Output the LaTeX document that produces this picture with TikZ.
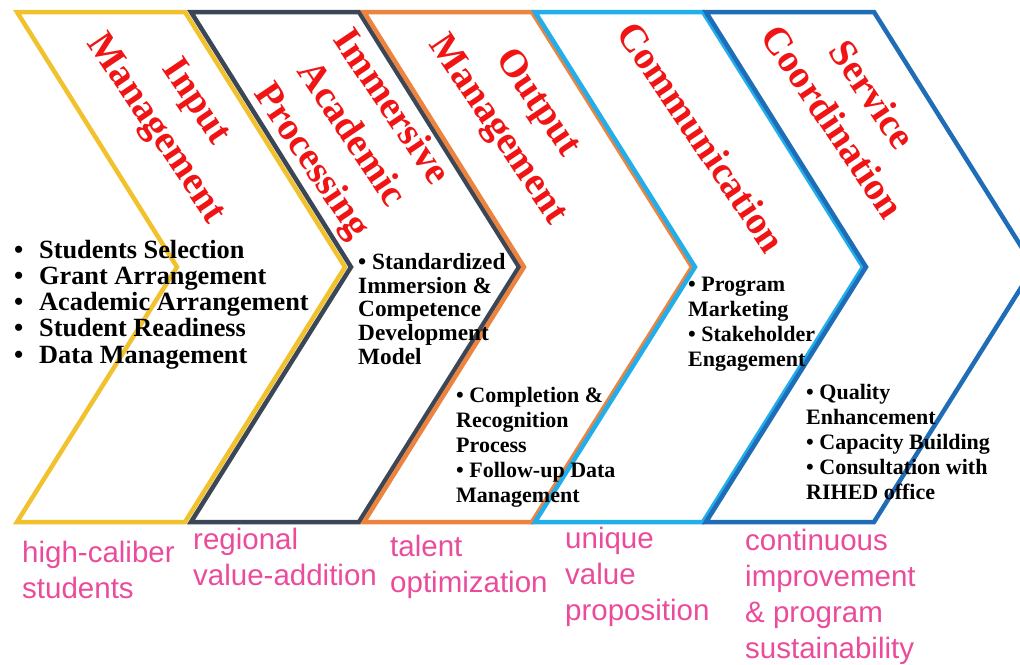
\documentclass[tikz,border=0pt]{standalone}
\usepackage{fontspec}
\setmainfont{Liberation Serif}
\setsansfont{Liberation Sans}
\usepackage{tikz}

\definecolor{chyellow}{HTML}{F2C12E}
\definecolor{chslate}{HTML}{3B4757}
\definecolor{chorange}{HTML}{EC8440}
\definecolor{chsky}{HTML}{22AEEA}
\definecolor{chblue}{HTML}{1F6DB7}
\definecolor{headred}{HTML}{F01414}
\definecolor{gainpink}{HTML}{EA4C9B}

\newcommand{\blt}{\makebox[25pt][l]{\textbullet}}

\begin{document}
\begin{tikzpicture}[x=1pt, y=-1pt,
	chev/.style={line width=4.5pt, line join=miter},
	head/.style={text=headred, font=\bfseries\fontsize{39}{48}\selectfont, align=center, rotate=-56, inner sep=0pt},
	item/.style={font=\bfseries\fontsize{22}{25}\selectfont, align=left, anchor=base west, inner sep=0pt},
	gain/.style={text=gainpink, font=\sffamily\fontsize{29.5}{36}\selectfont, align=left, anchor=base west, inner sep=0pt}]
			\useasboundingbox (0,0) rectangle (1020,664);
			\clip (0,0) rectangle (1020,664);
			
			% the five chevrons
			\draw[chev, chyellow] (17,12) -- (185,12) -- (345,267) -- (185,522) -- (17,522) -- (177,267) -- cycle;
			\draw[chev, chslate] (191,12) -- (359,12) -- (519,267) -- (359,522) -- (191,522) -- (351,267) -- cycle;
			\draw[chev, chorange] (364,12) -- (532,12) -- (692,267) -- (532,522) -- (364,522) -- (524,267) -- cycle;
			\draw[chev, chsky] (535,12) -- (703,12) -- (863,267) -- (703,522) -- (535,522) -- (695,267) -- cycle;
			\draw[chev, chblue] (706,12) -- (874,12) -- (1034,267) -- (874,522) -- (706,522) -- (866,267) -- cycle;
			
			% stage names
			\node[head] (inp) at (175,116) {Input\\Management};
			\node[head] (acad) at (350,135) {Immersive\\Academic\\Processing};
			\node[head] (outp) at (517,117) {Output\\Management};
			\node[head] (comm) at (702,137) {Communication};
			\node[head] (serv) at (853,108) {Service\\Coordination};
			
			% activities (placed by the baseline of the last line)
			\node[item, font=\bfseries\fontsize{26.3}{26.2}\selectfont] (inlist) at (14,363)
				{\blt Students Selection\\\blt Grant Arrangement\\\blt Academic Arrangement\\\blt Student Readiness\\\blt Data Management};
			\node[item, font=\bfseries\fontsize{23.3}{23.6}\selectfont] (acadlist) at (358,364)
				{\textbullet\ Standardized\\Immersion \&\\Competence\\Development\\Model};
			\node[item] (outlist) at (456,502)
				{\textbullet\ Completion \&\\Recognition\\Process\\\textbullet\ Follow-up Data\\Management};
			\node[item] (commlist) at (688,366)
				{\textbullet\ Program\\Marketing\\\textbullet\ Stakeholder\\Engagement};
			\node[item] (servlist) at (806,499)
				{\textbullet\ Quality\\Enhancement\\\textbullet\ Capacity Building\\\textbullet\ Consultation with\\RIHED office};
			
			% outcomes
			\node[gain] (ingain) at (22,598) {high-caliber\\students};
			\node[gain] (acadgain) at (193,585) {regional\\value-addition};
			\node[gain] (outgain) at (390,592) {talent\\optimization};
			\node[gain] (commgain) at (565,620) {unique\\value\\proposition};
			\node[gain] (servgain) at (745,658) {continuous\\improvement\\\& program\\sustainability};
\end{tikzpicture}
\end{document}
